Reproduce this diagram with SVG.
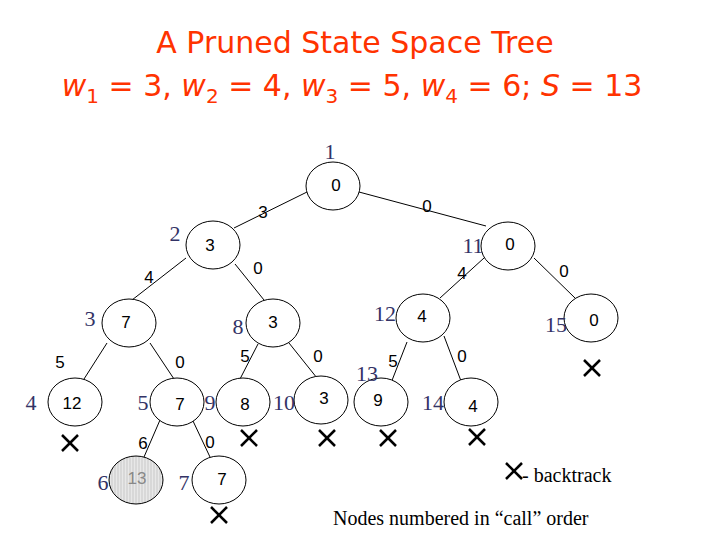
<svg xmlns="http://www.w3.org/2000/svg" width="720" height="540" viewBox="0 0 720 540">
<style>
.t{font-family:"DejaVu Sans","Liberation Sans",sans-serif;fill:#ff3300;font-size:30px;text-anchor:middle}
.n ellipse{fill:#fff;stroke:#000;stroke-width:1}
.v{font-family:"Liberation Sans",Arial,sans-serif;font-size:17px;text-anchor:middle}
.id{font-family:"Liberation Serif","Times New Roman",serif;font-size:22px;fill:#333366;text-anchor:middle}
.e line{stroke:#000;stroke-width:1}
.el{font-family:"Liberation Sans",Arial,sans-serif;font-size:17px;text-anchor:middle}
.lg{font-family:"Liberation Serif","Times New Roman",serif;font-size:20px}
</style>
<defs>
<pattern id="h" width="3" height="3" patternUnits="userSpaceOnUse"><rect width="3" height="3" fill="#e8e8e8"/><line x1="1" y1="0" x2="1" y2="3" stroke="#c8c8c8" stroke-width="1"/></pattern>
<g id="X" stroke="#000" stroke-width="2.5"><line x1="-8" y1="-8" x2="8" y2="8"/><line x1="-8" y1="8" x2="8" y2="-8"/></g>
</defs>
<rect width="720" height="540" fill="#fff"/>
<text class="t" x="355" y="53">A Pruned State Space Tree</text>
<text class="t" x="352" y="96"><tspan font-style="italic">w</tspan><tspan font-size="20" dy="7">1</tspan><tspan dy="-7"> = 3, </tspan><tspan font-style="italic">w</tspan><tspan font-size="20" dy="7">2</tspan><tspan dy="-7"> = 4, </tspan><tspan font-style="italic">w</tspan><tspan font-size="20" dy="7">3</tspan><tspan dy="-7"> = 5, </tspan><tspan font-style="italic">w</tspan><tspan font-size="20" dy="7">4</tspan><tspan dy="-7"> = 6;  </tspan><tspan font-style="italic">S</tspan><tspan> = 13</tspan></text>
<g class="e" id="connectors">
<line x1="307" y1="192" x2="234" y2="228"/>
<line x1="359" y1="192" x2="486" y2="226"/>
<line x1="186" y1="258" x2="132" y2="300"/>
<line x1="235" y1="264" x2="264" y2="300"/>
<line x1="484" y1="258" x2="440" y2="298"/>
<line x1="534" y1="258" x2="575" y2="298"/>
<line x1="107" y1="343" x2="84" y2="379"/>
<line x1="150" y1="343" x2="174" y2="379"/>
<line x1="258" y1="344" x2="240" y2="379"/>
<line x1="289" y1="343" x2="317" y2="378"/>
<line x1="407" y1="342" x2="391" y2="383"/>
<line x1="444" y1="336" x2="461" y2="381"/>
<line x1="160" y1="420" x2="144" y2="457"/>
<line x1="193" y1="421" x2="210" y2="457"/>
</g>
<g class="el">
<text x="263" y="218">3</text><text x="427" y="212">0</text>
<text x="149" y="283">4</text><text x="258" y="274">0</text>
<text x="462" y="279">4</text><text x="564" y="277">0</text>
<text x="60" y="368">5</text><text x="180" y="368">0</text>
<text x="245" y="362">5</text><text x="318" y="362">0</text>
<text x="393" y="367">5</text><text x="462" y="362">0</text>
<text x="143" y="449">6</text><text x="210" y="448">0</text>
</g>
<g class="n" id="n1"><ellipse cx="333" cy="186" rx="27" ry="24"/><text class="v" x="336" y="191">0</text><text class="id" x="330" y="159">1</text></g>
<g class="n" id="n2"><ellipse cx="213" cy="245" rx="27" ry="24"/><text class="v" x="210" y="251">3</text><text class="id" x="175" y="241">2</text></g>
<g class="n" id="n3"><ellipse cx="129" cy="323" rx="27" ry="24"/><text class="v" x="126" y="328">7</text><text class="id" x="90" y="326">3</text></g>
<g class="n" id="n4"><ellipse cx="75" cy="402" rx="27" ry="24"/><text class="v" x="72" y="409">12</text><text class="id" x="31" y="410">4</text></g>
<g class="n" id="n5"><ellipse cx="177" cy="402" rx="27" ry="24"/><text class="v" x="180" y="410">7</text><text class="id" x="143" y="410">5</text></g>
<g class="n" id="n6"><ellipse cx="136" cy="480" rx="27" ry="24" style="fill:url(#h)"/><text class="v" x="137" y="484" fill="#888">13</text><text class="id" x="103" y="490">6</text></g>
<g class="n" id="n7"><ellipse cx="219" cy="480" rx="27" ry="24"/><text class="v" x="222" y="485">7</text><text class="id" x="184" y="490">7</text></g>
<g class="n" id="n8"><ellipse cx="273" cy="323" rx="27" ry="24"/><text class="v" x="273" y="328">3</text><text class="id" x="238" y="334">8</text></g>
<g class="n" id="n9"><ellipse cx="243" cy="402" rx="27" ry="24"/><text class="v" x="245" y="410">8</text><text class="id" x="210" y="410">9</text></g>
<g class="n" id="n10"><ellipse cx="321" cy="400" rx="27" ry="24"/><text class="v" x="324" y="404">3</text><text class="id" x="284" y="410">10</text></g>
<g class="n" id="n11"><ellipse cx="508" cy="246" rx="27" ry="24"/><text class="v" x="510" y="250">0</text><text class="id" x="473" y="253">11</text></g>
<g class="n" id="n12"><ellipse cx="423" cy="318" rx="27" ry="24"/><text class="v" x="422" y="322">4</text><text class="id" x="385" y="321">12</text></g>
<g class="n" id="n13"><ellipse cx="381" cy="402" rx="27" ry="24"/><text class="v" x="378" y="406">9</text><text class="id" x="367" y="381">13</text></g>
<g class="n" id="n14"><ellipse cx="471" cy="402" rx="27" ry="24"/><text class="v" x="473" y="412">4</text><text class="id" x="433" y="410">14</text></g>
<g class="n" id="n15"><ellipse cx="591" cy="318" rx="27" ry="24"/><text class="v" x="594" y="326">0</text><text class="id" x="556" y="332">15</text></g>
<g id="marks">
<use href="#X" x="70" y="443"/><use href="#X" x="249" y="438"/><use href="#X" x="327" y="438"/>
<use href="#X" x="388" y="438"/><use href="#X" x="477" y="437"/><use href="#X" x="592" y="368"/>
<use href="#X" x="219" y="515"/><use href="#X" x="514" y="471"/>
</g>
<text class="lg" x="522" y="482">- backtrack</text>
<text class="lg" x="333" y="525">Nodes numbered in “call” order</text>
</svg>
